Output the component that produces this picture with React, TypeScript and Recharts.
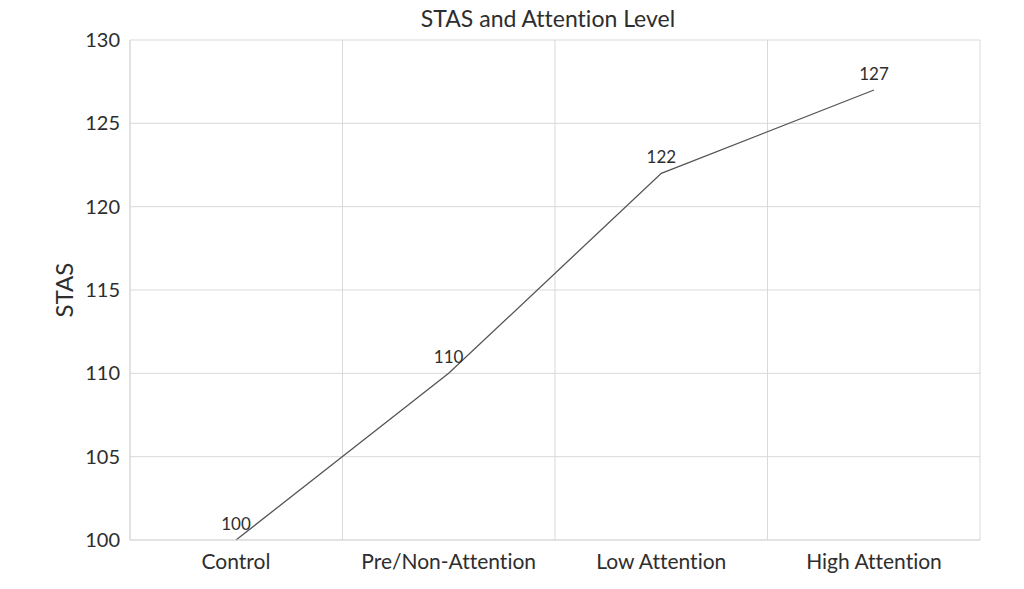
import { LineChart, Line, XAxis, YAxis, CartesianGrid, LabelList, Label } from "recharts";

const categories = ["Control", "Pre/Non-Attention", "Low Attention", "High Attention"];
const stasValues = [100, 110, 122, 127];
const yTicks = [100, 105, 110, 115, 120, 125, 130];

const data = categories.map((name, i) => ({ name, stas: stasValues[i] }));

const FONT = "Lato, 'Open Sans', sans-serif";
const GRID = "#d9d9d9";
const TEXT = "#2e2e2e";
// no "ti" ligature like the original Calibri text
const noLig = { fontVariantLigatures: "none", fontFeatureSettings: "'liga' 0, 'clig' 0" } as any;

export default function App() {
  return (
    <div style={{ position: "relative", width: 1000, height: 570, fontFamily: FONT, ...noLig }}>
      <div
        style={{
          position: "absolute",
          top: -4,
          left: 0,
          width: 1080,
          textAlign: "center",
          fontSize: 23,
          color: TEXT,
        }}
      >
        STAS and Attention Level
      </div>
      <LineChart
        width={1000}
        height={570}
        data={data}
        margin={{ top: 32, right: 28, left: 40, bottom: 8 }}
      >
        <CartesianGrid
          stroke={GRID}
          verticalCoordinatesGenerator={({ offset }: any) =>
            [0, 1, 2, 3, 4].map((i) => offset.left + (i * offset.width) / 4)
          }
        />
        <XAxis
          dataKey="name"
          padding={{ left: 106, right: 106 }}
          axisLine={{ stroke: GRID }}
          tickLine={false}
          height={30}
          tickMargin={8}
          tick={{ fill: TEXT, fontSize: 21, fontFamily: FONT, style: noLig }}
        />
        <YAxis
          domain={[100, 130]}
          ticks={yTicks}
          width={82}
          axisLine={{ stroke: GRID }}
          tickLine={false}
          tickMargin={4}
          tick={{ fill: TEXT, fontSize: 20, fontFamily: FONT }}
        >
          <Label
            value="STAS"
            angle={-90}
            position="insideLeft"
            offset={16}
            style={{ fill: TEXT, fontSize: 24, fontFamily: FONT, textAnchor: "middle" }}
          />
        </YAxis>
        <Line
          type="linear"
          dataKey="stas"
          stroke="#555"
          strokeWidth={1.3}
          dot={false}
          isAnimationActive={false}
        >
          <LabelList
            dataKey="stas"
            position="top"
            offset={10}
            style={{ fill: TEXT, fontSize: 17, fontFamily: FONT }}
          />
        </Line>
      </LineChart>
    </div>
  );
}
